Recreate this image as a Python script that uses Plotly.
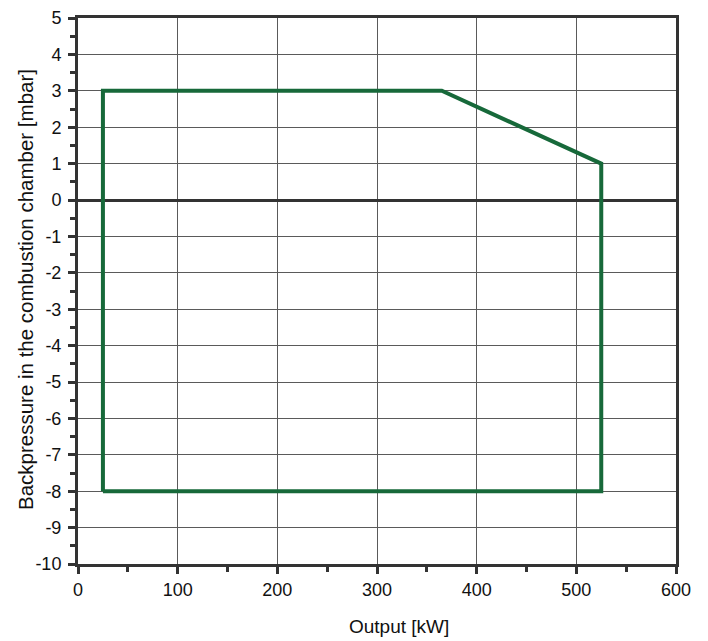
import plotly.graph_objects as go

output_kw = [25, 25, 365, 525, 525, 25]
backpressure_mbar = [-8, 3, 3, 1, -8, -8]

x_ticks = [0, 100, 200, 300, 400, 500, 600]
y_ticks = list(range(-10, 6))

x_title = "Output [kW]"
y_title = "Backpressure in the combustion chamber [mbar]"

FONT = "Liberation Sans, Arial"

fig = go.Figure()
fig.add_trace(go.Scatter(
    x=output_kw, y=backpressure_mbar, mode="lines",
    line=dict(color="#17693a", width=4), showlegend=False,
))

axis_common = dict(
    showline=True, mirror=True, linewidth=3, linecolor="#333333",
    showgrid=True, gridcolor="#5a5a5a", gridwidth=1,
    ticks="outside", ticklen=7, tickwidth=3, tickcolor="#333333",
    tickfont=dict(family=FONT, size=18, color="#111111"),
    zeroline=True, zerolinewidth=3, zerolinecolor="#333333",
    automargin=False,
)

fig.update_xaxes(
    range=[0, 600], tickvals=x_ticks, ticktext=[str(v) for v in x_ticks],
    minor=dict(dtick=50, tick0=0, ticks="outside", ticklen=5, tickwidth=3, tickcolor="#333333", showgrid=False),
    **axis_common,
)
fig.update_yaxes(
    range=[-10, 5], tickvals=y_ticks, ticktext=[str(v) for v in y_ticks],
    ticklabelstandoff=3,
    minor=dict(dtick=0.5, tick0=0, ticks="outside", ticklen=5, tickwidth=3, tickcolor="#333333", showgrid=False),
    **axis_common,
)

fig.add_annotation(
    text=x_title, xref="paper", yref="paper", x=0.5, y=0,
    xanchor="center", yanchor="middle", xshift=22, yshift=-62,
    showarrow=False, font=dict(family=FONT, size=19, color="#111111"),
)
fig.add_annotation(
    text=y_title, xref="paper", yref="paper", x=0, y=0.5,
    xanchor="center", yanchor="middle", xshift=-53, yshift=1,
    textangle=-90, showarrow=False, font=dict(family=FONT, size=20.5, color="#111111"),
)

fig.update_layout(
    width=700, height=633,
    margin=dict(l=70, r=32, t=10, b=77),
    plot_bgcolor="white", paper_bgcolor="white",
)

fig.write_html("out.html")
